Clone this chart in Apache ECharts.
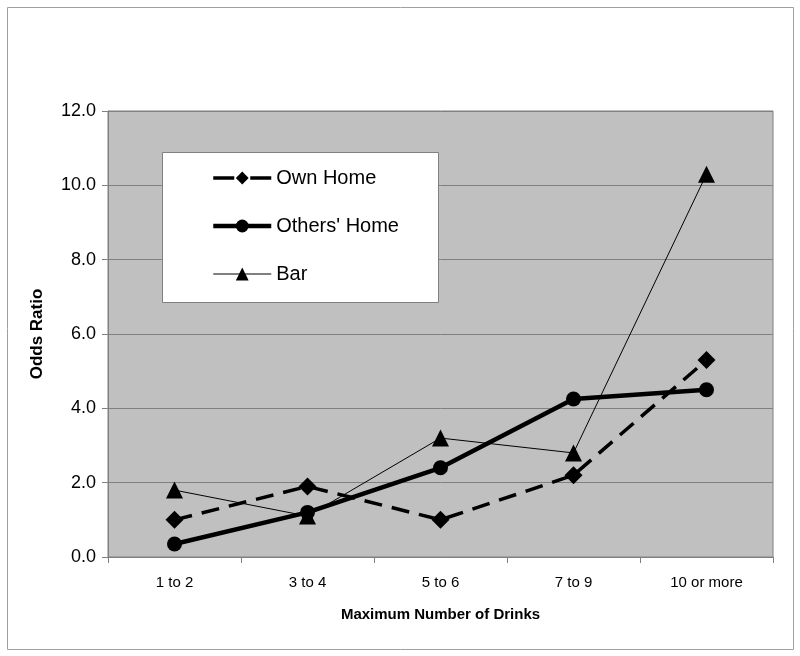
<!DOCTYPE html>
<html>
<head>
<meta charset="utf-8">
<script src="https://cdn.jsdelivr.net/npm/echarts@6/dist/echarts.min.js"></script>
<style>
  html, body { margin: 0; padding: 0; background: #fff; }
  #chart { width: 800px; height: 656px; }
</style>
</head>
<body>
<div id="chart"></div>
<script>
var categories = ['1 to 2', '3 to 4', '5 to 6', '7 to 9', '10 or more'];
var ownHome = [1.0, 1.9, 1.0, 2.2, 5.3];
var othersHome = [0.35, 1.2, 2.4, 4.25, 4.5];
var bar = [1.8, 1.1, 3.2, 2.8, 10.3];
var seriesNames = ['Own Home', "Others' Home", 'Bar'];
var yTicks = { min: 0, max: 12, interval: 2 };

var chart = echarts.init(document.getElementById('chart'));
var font = 'Liberation Sans, Arial, sans-serif';
chart.setOption({
  animation: false,
  backgroundColor: '#ffffff',
  textStyle: { fontFamily: font, color: '#000' },
  graphic: [
    { type: 'rect', shape: { x: 7.5, y: 7.5, width: 786, height: 642 },
      style: { fill: 'none', stroke: '#a0a0a0', lineWidth: 1 }, z: 0 },
    { type: 'rect', shape: { x: 162.5, y: 152.5, width: 276, height: 150 },
      style: { fill: '#ffffff', stroke: '#808080', lineWidth: 1 }, z: 3 }
  ],
  grid: {
    left: 108, right: 27, top: 111, bottom: 99,
    show: true, backgroundColor: '#c0c0c0', borderColor: '#808080', borderWidth: 1
  },
  legend: {
    orient: 'vertical', left: 206, top: 162,
    itemWidth: 58, itemHeight: 16, itemGap: 26,
    data: [
      { name: seriesNames[0], lineStyle: { width: 3.5, type: [21, 16] } },
      { name: seriesNames[1], lineStyle: { width: 4.5, type: 'solid' } },
      { name: seriesNames[2], lineStyle: { width: 1, type: 'solid' } }
    ],
    textStyle: { fontFamily: font, fontSize: 20, color: '#000', lineHeight: 22 },
    z: 5
  },
  xAxis: {
    type: 'category', data: categories, boundaryGap: true,
    name: 'Maximum Number of Drinks', nameLocation: 'middle', nameGap: 50,
    nameTextStyle: { fontFamily: font, fontSize: 15, fontWeight: 'bold', color: '#000' },
    axisLine: { lineStyle: { color: '#808080', width: 1 } },
    axisTick: { show: true, length: 6, lineStyle: { color: '#808080' } },
    axisLabel: { fontFamily: font, fontSize: 15, color: '#000', margin: 18 },
    splitLine: { show: false }
  },
  yAxis: {
    type: 'value', min: yTicks.min, max: yTicks.max, interval: yTicks.interval,
    name: 'Odds Ratio', nameLocation: 'middle', nameGap: 62, nameRotate: 90,
    nameTextStyle: { fontFamily: font, fontSize: 17, fontWeight: 'bold', color: '#000' },
    axisLine: { show: true, lineStyle: { color: '#808080', width: 1 } },
    axisTick: { show: true, length: 6, lineStyle: { color: '#808080' } },
    axisLabel: { fontFamily: font, fontSize: 18, color: '#000', margin: 12,
      formatter: function (v) { return v.toFixed(1); } },
    splitLine: { show: true, lineStyle: { color: '#808080', width: 1 } }
  },
  series: [
    {
      name: seriesNames[0], type: 'line', data: ownHome,
      symbol: 'diamond', symbolSize: 18,
      lineStyle: { color: '#000', width: 3.5, type: [18, 10] },
      itemStyle: { color: '#000' }, z: 2
    },
    {
      name: seriesNames[1], type: 'line', data: othersHome,
      symbol: 'circle', symbolSize: 15,
      lineStyle: { color: '#000', width: 4.5, type: 'solid' },
      itemStyle: { color: '#000' }, z: 2
    },
    {
      name: seriesNames[2], type: 'line', data: bar,
      symbol: 'triangle', symbolSize: 17,
      lineStyle: { color: '#000', width: 1, type: 'solid' },
      itemStyle: { color: '#000' }, z: 2
    }
  ]
});
</script>
</body>
</html>
